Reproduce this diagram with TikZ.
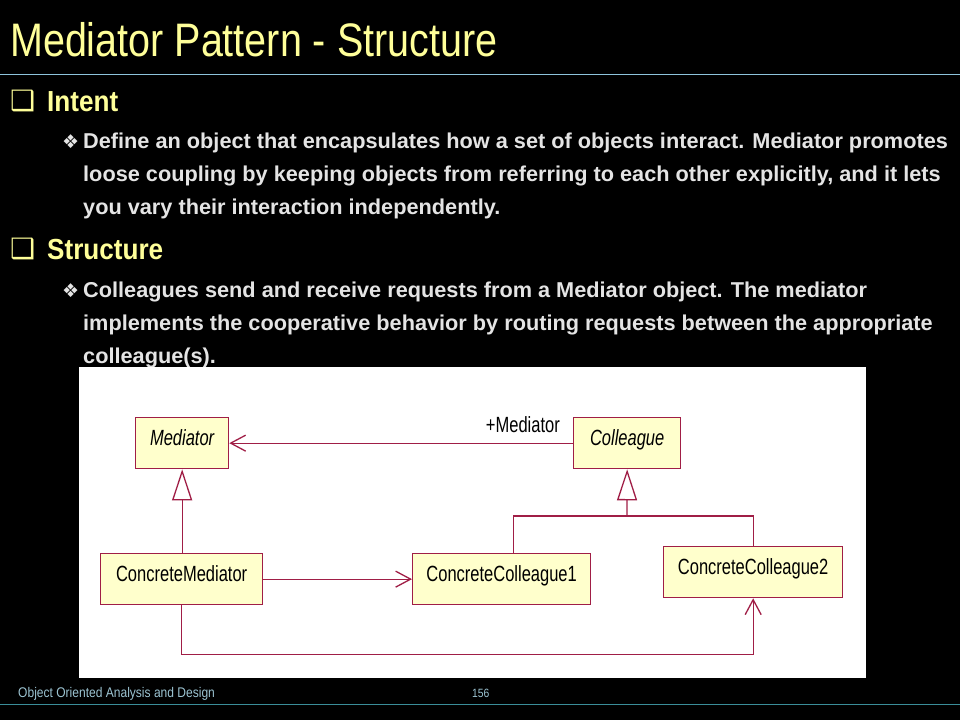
\documentclass[tikz,border=0pt]{standalone}
\usepackage{fontspec}
\usetikzlibrary{arrows.meta,calc}
\setmainfont{Liberation Sans}
\newfontfamily\titlefont[FakeStretch=0.84]{Liberation Sans}
\newfontfamily\bodyfont[FakeStretch=1.01]{Liberation Sans}
\newfontfamily\headfont[FakeStretch=0.9]{Liberation Sans}
\newfontfamily\umlfont[FakeStretch=0.75]{Liberation Sans}
\newfontfamily\footfont[FakeStretch=0.86]{Liberation Sans}
\newfontfamily\symfont{DejaVu Sans}
\definecolor{titleyellow}{HTML}{FFFF99}
\definecolor{bodygray}{HTML}{E4E4E4}
\definecolor{ruleblue}{HTML}{8EC4DC}
\definecolor{footteal}{HTML}{3A8D99}
\definecolor{footblue}{HTML}{9CC4D2}
\definecolor{umlred}{HTML}{A01E46}
\definecolor{umlfill}{HTML}{FFFFCC}
\tikzset{
  heading/.style={anchor=base west, inner sep=0pt, text=titleyellow,
    font=\headfont\bfseries\fontsize{29}{33}\selectfont},
  bodyline/.style={anchor=base west, inner sep=0pt, text=bodygray,
    font=\bodyfont\bfseries\fontsize{21.5}{24}\selectfont},
  umlclass/.style={draw=umlred, fill=umlfill, line width=1.3pt, anchor=north west,
    inner sep=0pt, text height=16pt, text depth=12pt,
    font=\umlfont\fontsize{22}{26}\selectfont},
  uml/.style={draw=umlred, line width=1.3pt},
  assoc/.style={uml, -{Straight Barb[length=15pt,width=16pt]}},
  inherit/.style={uml, -{Triangle[open,length=31pt,width=20pt]}},
}
\begin{document}
\begin{tikzpicture}[%
x=1pt, y=-1pt,
]
\useasboundingbox (0,0) rectangle (960,720);
\fill [black] (0,0) rectangle (960,720);
%% title;
\node [anchor=base west, inner sep=0pt, text=titleyellow,
  font=\titlefont\fontsize{47}{52}\selectfont] (title) at (10,56) {Mediator Pattern - Structure};
\draw [ruleblue, line width=1pt] (0,74) -- (960,74);
%% intent;
\node [heading, font=\symfont\bfseries\fontsize{28}{30}\selectfont] (intentbox) at (10,110) {❑};
\node [heading] (intent) at (47,111) {Intent};
\node [bodyline, font=\symfont\fontsize{19}{24}\selectfont] (intentdia) at (62,148) {❖};
\node [bodyline] (intent1) at (83,148) {Define an object that encapsulates how a set of objects interact. Mediator promotes};
\node [bodyline] (intent2) at (83,181) {loose coupling by keeping objects from referring to each other explicitly, and it lets};
\node [bodyline] (intent3) at (83,214) {you vary their interaction independently.};
%% structure;
\node [heading, font=\symfont\bfseries\fontsize{28}{30}\selectfont] (structbox) at (10,258) {❑};
\node [heading] (struct) at (47,259) {Structure};
\node [bodyline, font=\symfont\fontsize{19}{24}\selectfont] (structdia) at (62,297) {❖};
\node [bodyline] (struct1) at (83,297) {Colleagues send and receive requests from a Mediator object. The mediator};
\node [bodyline] (struct2) at (83,330) {implements the cooperative behavior by routing requests between the appropriate};
\node [bodyline] (struct3) at (83,363) {colleague(s).};
%% diagram;
\fill [white] (79,367) rectangle (866,678);
\node [umlclass, minimum width=93pt, minimum height=51pt] (mediator) at (135,417) {\itshape Mediator};
\node [umlclass, minimum width=107pt, minimum height=51pt] (colleague) at (573,417) {\itshape Colleague};
\node [umlclass, minimum width=162pt, minimum height=51pt] (cmed) at (100,553) {ConcreteMediator};
\node [umlclass, minimum width=178pt, minimum height=51pt] (ccol1) at (412,553) {ConcreteColleague1};
\node [umlclass, minimum width=179pt, minimum height=51pt] (ccol2) at (663,546) {ConcreteColleague2};
\coordinate (bus) at (627,516);
\draw [assoc] (colleague.west) -- (mediator.east |- colleague.west);
\node [anchor=base east, inner sep=0pt, font=\umlfont\fontsize{22}{26}\selectfont]
  (role) at ([xshift=-13pt,yshift=11pt]colleague.west) {+Mediator};
\draw [inherit] (mediator.south |- cmed.north) -- (mediator.south);
\draw [inherit] (bus) -- (colleague.south);
\draw [uml] ([xshift=12pt]ccol1.north) |- (bus) -| (ccol2.north);
\draw [assoc] (cmed.east) -- (ccol1.west);
\draw [assoc] (cmed.south) -- ++(0,49) -| (ccol2.south);
%% footer;
\node [anchor=base west, inner sep=0pt, text=footblue,
  font=\footfont\fontsize{14}{16}\selectfont] (foot) at (18,697) {Object Oriented Analysis and Design};
\node [anchor=base west, inner sep=0pt, text=footblue,
  font=\footfont\fontsize{12}{14}\selectfont] (page) at (472,697) {156};
\draw [footteal, line width=1pt] (0,704) -- (960,704);
\end{tikzpicture}
\end{document}
